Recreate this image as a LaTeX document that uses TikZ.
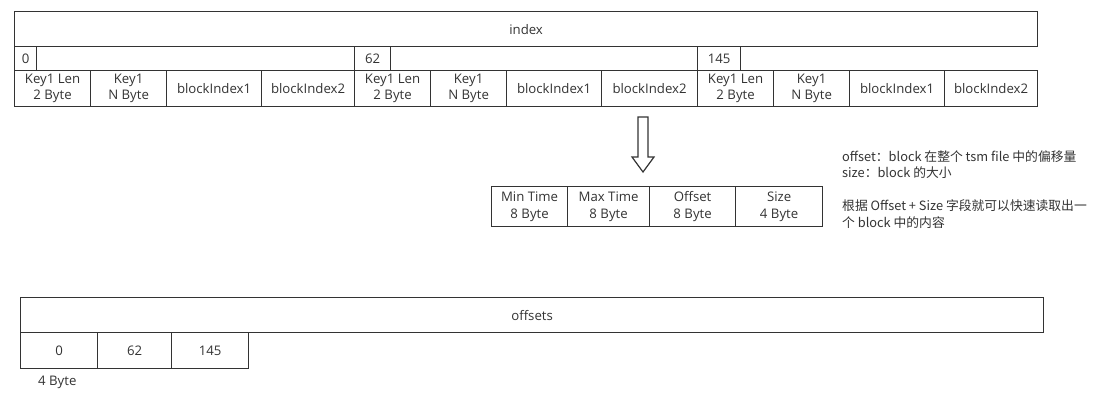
\documentclass[tikz,border=0pt]{standalone}
\usepackage{fontspec}
\setmainfont{Open Sans}
\newfontfamily\cjk{Noto Sans CJK SC}
\usetikzlibrary{positioning}

\definecolor{linec}{HTML}{333333}
\definecolor{textc}{HTML}{333333}

\tikzset{
  cell/.style={draw=linec, line width=1.2pt, inner sep=0pt, anchor=north west,
    align=center, text=textc, font=\fontsize{13.2}{16.5}\selectfont},
  note/.style={inner sep=0pt, anchor=north west, align=left, text=textc,
    font=\cjk\fontsize{12.8}{16.6}\selectfont}
}

\begin{document}
\begin{tikzpicture}[x=1pt,y=-1pt]
  \useasboundingbox (0,0) rectangle (1112,410);

  % index header and key groups
  \node[cell, minimum width=1023, minimum height=35] (index) at (14,11) {index};
  \foreach \g/\x/\w/\off/\ow in {a/14/340/0/22, b/354/343/62/36, c/697/340/145/43} {
    \node[cell, minimum width=\ow, minimum height=24] (off\g) at (\x,46) {\off};
    \node[cell, minimum width=76, minimum height=36] (klen\g) at (\x,70) {Key1 Len\\2 Byte};
    \node[cell, minimum width=76, minimum height=36] (kname\g) at ({\x+76},70) {Key1\\N Byte};
    \node[cell, minimum width=95, minimum height=36] (bidxa\g) at ({\x+152},70) {blockIndex1};
    \node[cell, minimum width={\w-247}, minimum height=36] (bidxb\g) at ({\x+247},70) {blockIndex2};
  }

  % hollow arrow down to the block index entry
  \draw[draw=linec, line width=1.2pt, line join=miter]
    (638,117) -- (648,117) -- (648,157) -- (654,157) -- (643,172)
    -- (632,157) -- (638,157) -- cycle;

  % block index entry
  \node[cell, minimum width=76, minimum height=40] (mint) at (491,186) {Min Time\\8 Byte};
  \node[cell, minimum width=82, minimum height=40] (maxt) at (567,186) {Max Time\\8 Byte};
  \node[cell, minimum width=86, minimum height=40] (offs) at (649,186) {Offset\\8 Byte};
  \node[cell, minimum width=87, minimum height=40] (size) at (735,186) {Size\\4 Byte};

  % notes
  \node[note] (note) at (842,150) {offset：block 在整个 tsm file 中的偏移量\\
    size：block 的大小\\[16.6pt]
    根据 Offset + Size 字段就可以快速读取出一\\
    个 block 中的内容};

  % offsets table
  \node[cell, minimum width=1023, minimum height=35] (offsets) at (20,297) {offsets};
  \node[cell, minimum width=77, minimum height=36] (o0) at (20,332) {0};
  \node[cell, minimum width=74, minimum height=36] (o62) at (97,332) {62};
  \node[cell, minimum width=77, minimum height=36] (o145) at (171,332) {145};
  \node[inner sep=0pt, anchor=north west, text=textc,
    font=\fontsize{13.2}{15.5}\selectfont] (obyte) at (38,376) {4 Byte};
\end{tikzpicture}
\end{document}
